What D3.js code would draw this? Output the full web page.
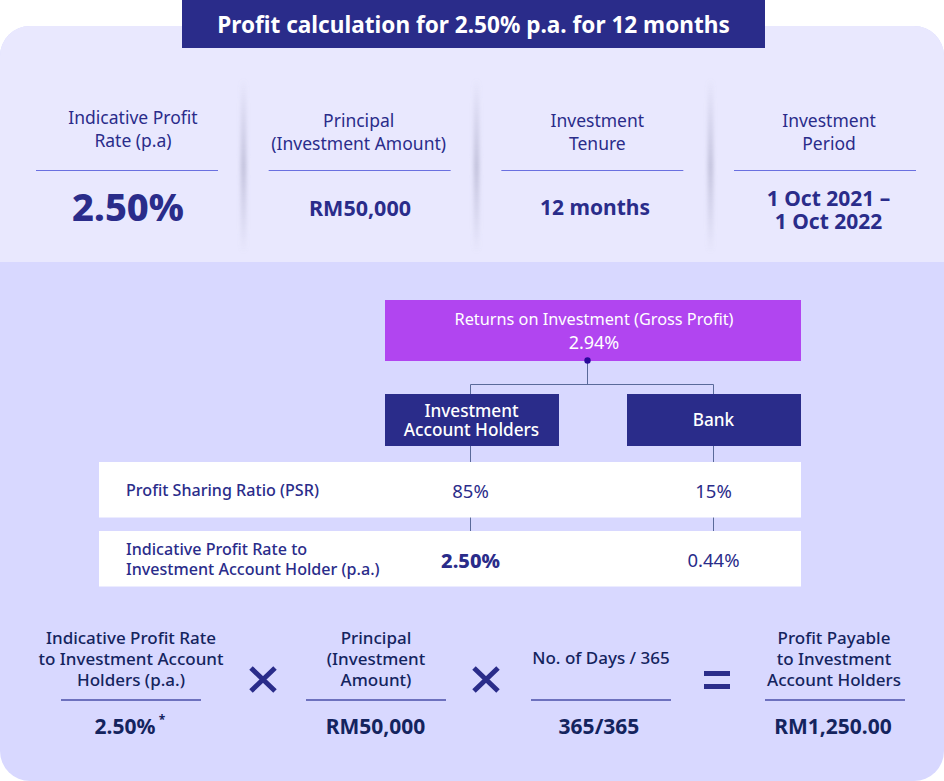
<!DOCTYPE html>
<html>
<head>
<meta charset="utf-8">
<script src="https://cdnjs.cloudflare.com/ajax/libs/d3/7.8.5/d3.min.js"></script>
<style>
  html, body { margin: 0; padding: 0; background: #fff; }
  text { font-family: "Noto Sans", sans-serif; text-anchor: middle; }
</style>
</head>
<body>
<div id="chart"></div>
<script>
const title = "Profit calculation for 2.50% p.a. for 12 months";

// top summary row
const summaryHeads = [["Indicative Profit", "Rate (p.a)"], ["Principal", "(Investment Amount)"], ["Investment", "Tenure"], ["Investment", "Period"]];
const summaryValues = [["2.50%"], ["RM50,000"], ["12 months"], ["1 Oct 2021 –", "1 Oct 2022"]];

// profit sharing
const grossLabel = "Returns on Investment (Gross Profit)";
const grossValue = "2.94%";
const parties = [["Investment", "Account Holders"], ["Bank"]];
const rowLabels = [["Profit Sharing Ratio (PSR)"], ["Indicative Profit Rate to", "Investment Account Holder (p.a.)"]];
const psrValues = ["85%", "15%"];
const rateValues = ["2.50%", "0.44%"];

// formula row
const formulaHeads = [["Indicative Profit Rate", "to Investment Account", "Holders (p.a.)"], ["Principal", "(Investment", "Amount)"], ["No. of Days / 365"], ["Profit Payable", "to Investment", "Account Holders"]];
const formulaValues = ["2.50%", "RM50,000", "365/365", "RM1,250.00"];
const formulaOps = ["×", "×", "="];

const navy = "#2a2c8a", dark = "#14245e", W = 944, H = 781;

const svg = d3.select("#chart").append("svg")
    .attr("width", W).attr("height", H)
    .style("display", "block");

const defs = svg.append("defs");
const shade = defs.append("linearGradient").attr("id", "shade")
    .attr("x1", 0).attr("x2", 0).attr("y1", 0).attr("y2", 1);
shade.append("stop").attr("offset", 0).attr("stop-color", "#9a9ab8").attr("stop-opacity", 0);
shade.append("stop").attr("offset", 0.5).attr("stop-color", "#9a9ab8").attr("stop-opacity", 0.55);
shade.append("stop").attr("offset", 1).attr("stop-color", "#9a9ab8").attr("stop-opacity", 0);
defs.append("filter").attr("id", "soft").attr("x", "-200%").attr("width", "500%")
    .append("feGaussianBlur").attr("stdDeviation", "2.2 0");

// one text element, lines as tspans centred on a middle y
function lines(g, rows, x, y, lh, size, weight, color, anchor) {
    const t = g.append("text")
        .attr("font-size", size)
        .attr("font-weight", weight)
        .attr("fill", color)
        .style("text-anchor", anchor || "middle");
    rows.forEach(function (s, i) {
        t.append("tspan")
            .attr("x", x)
            .attr("y", y + (i - (rows.length - 1) / 2) * lh)
            .attr("dy", "0.35em")
            .text(s);
    });
}

// panels
svg.append("rect").attr("x", 0).attr("y", 26).attr("width", W).attr("height", H - 26)
    .attr("rx", 30).attr("fill", "#d8d8ff");
svg.append("path")
    .attr("d", "M0,262V56A30,30 0 0 1 30,26H914A30,30 0 0 1 944,56V262Z")
    .attr("fill", "#e9e8fe");

// title bar
svg.append("rect").attr("x", 182).attr("y", 0).attr("width", 583).attr("height", 48).attr("fill", navy);
lines(svg, [title], 473.5, 25, 0, 22.6, 700, "#fff");

// summary columns
const colX = d3.scalePoint().domain(d3.range(4)).range([127, 825]);
const sepX = [244, 477, 711];
svg.selectAll(".sep").data(sepX).enter().append("rect")
    .attr("class", "sep")
    .attr("x", d => d - 3).attr("y", 78).attr("width", 5).attr("height", 176)
    .attr("fill", "url(#shade)").attr("filter", "url(#soft)");

const headShift = [6, -1, 5, 4];
const valueX = [128, 360, 595, 828.5];
const valueSize = [38, 21.5, 21, 21];
summaryHeads.forEach(function (h, i) {
    lines(svg, h, colX(i) + headShift[i], i == 0 ? 129 : 132, 23, 17.5, 400, navy);
    svg.append("line").attr("x1", colX(i) - 91).attr("x2", colX(i) + 91)
        .attr("y1", 170.5).attr("y2", 170.5).attr("stroke", "#6a70e0").attr("stroke-width", 1);
    lines(svg, summaryValues[i], valueX[i], i == 3 ? 210 : 208, 23.5, valueSize[i], i == 0 ? 800 : 700, navy);
});

// connectors
const midAH = 470.5, midBank = 713.5, midGross = 587.5;
const link = svg.append("g").attr("stroke", "#5a6a9a").attr("stroke-width", 1).attr("fill", "none");
link.append("path").attr("d", `M${midGross},361V384.5M${midAH},394V384.5H${midBank}V394`);
link.append("path").attr("d", `M${midAH},445V462M${midBank},445V462M${midAH},517V531M${midBank},517V531`);

// gross box
svg.append("rect").attr("x", 385).attr("y", 300).attr("width", 416).attr("height", 61).attr("fill", "#b145f0");
lines(svg, [grossLabel], 594, 319.5, 0, 16.3, 400, "#fff");
lines(svg, [grossValue], 594, 343, 0, 18, 400, "#fff");
svg.append("circle").attr("cx", midGross).attr("cy", 360.5).attr("r", 3.2).attr("fill", "#2a0a9a");

// party boxes
const partyX = [385, 627];
parties.forEach(function (p, i) {
    svg.append("rect").attr("x", partyX[i]).attr("y", 394).attr("width", 174).attr("height", 52).attr("fill", navy);
    lines(svg, p, partyX[i] + 86.5, 420, 19, 17.2, 500, "#fff");
});

// table rows
const rowY = [462, 531];
[psrValues, rateValues].forEach(function (vals, r) {
    svg.append("rect").attr("x", 99).attr("y", rowY[r]).attr("width", 702).attr("height", 55.5).attr("fill", "#fff");
    lines(svg, rowLabels[r], 126, rowY[r] + 28.5, 19.5, 16.1, 500, navy, "start");
    vals.forEach(function (v, i) {
        const bold = r == 1 && i == 0;
        lines(svg, [v], i == 0 ? midAH : midBank, rowY[r] + 29.5, 0, bold ? 20 : 18.5, bold ? 800 : 400, navy);
    });
});

// formula
const fX = [131, 376, 601, 835];
const fValueX = [125, 375.5, 599, 833];
formulaHeads.forEach(function (h, i) {
    lines(svg, h, fX[i] + (i == 3 ? -1 : 0), i == 2 ? 658 : 659.5, 21, 17, 500, dark);
    svg.append("line").attr("x1", fX[i] - 70).attr("x2", fX[i] + 70)
        .attr("y1", 700).attr("y2", 700).attr("stroke", "#4a4fa8").attr("stroke-width", 1.4);
    lines(svg, [formulaValues[i]], fValueX[i], 727, 0, 21, 700, dark);
});
// asterisk after first value
svg.append("text").attr("x", 162).attr("y", 724).attr("font-size", 12).attr("font-weight", 700)
    .attr("fill", dark).text("*");

const opX = [263, 486, 717];
formulaOps.forEach(function (o, i) {
    if (o == "×") {
        svg.append("path")
            .attr("d", `M${opX[i] - 12},668L${opX[i] + 12},691M${opX[i] + 12},668L${opX[i] - 12},691`)
            .attr("stroke", navy).attr("stroke-width", 5).attr("fill", "none");
    } else {
        svg.append("path")
            .attr("d", `M${opX[i] - 13},673.5H${opX[i] + 13}M${opX[i] - 13},686.5H${opX[i] + 13}`)
            .attr("stroke", navy).attr("stroke-width", 5).attr("fill", "none");
    }
});
</script>
</body>
</html>
